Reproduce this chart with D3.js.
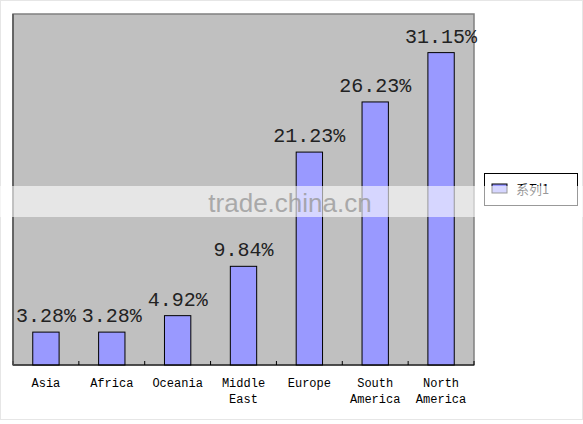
<!DOCTYPE html>
<html><head><meta charset="utf-8">
<script src="https://cdn.jsdelivr.net/npm/d3@7"></script>
<style>body{margin:0;background:#fff}svg{display:block}</style>
</head><body>
<script>
const categories = [["Asia"],["Africa"],["Oceania"],["Middle","East"],["Europe"],["South","America"],["North","America"]];
const values = [3.28, 3.28, 4.92, 9.84, 21.23, 26.23, 31.15];
const valueLabels = ["3.28%","3.28%","4.92%","9.84%","21.23%","26.23%","31.15%"];
const seriesName = "系列1";

const W = 583, H = 424;
const plot = {l: 13, t: 14, r: 474, b: 365};
const svg = d3.select("body").append("svg").attr("width", W).attr("height", H);

svg.append("rect").attr("x",0.5).attr("y",0.5).attr("width",W-1).attr("height",419)
  .attr("fill","#fff").attr("stroke","#e6e6e6");

svg.append("rect").attr("x",plot.l).attr("y",plot.t).attr("width",plot.r-plot.l).attr("height",plot.b-plot.t)
  .attr("fill","#c0c0c0").attr("stroke","#808080").attr("stroke-width",1.5);

const x = d3.scaleBand().domain(d3.range(categories.length)).range([plot.l, plot.r]).paddingInner(0.6).paddingOuter(0.3);
const y = d3.scaleLinear().domain([0,35]).range([plot.b, plot.t]);

svg.selectAll("rect.bar").data(values).join("rect").attr("class","bar")
  .attr("x",(d,i)=>x(i)).attr("y",d=>y(d)).attr("width",x.bandwidth()).attr("height",d=>y(0)-y(d))
  .attr("fill","#9999ff").attr("stroke","#000").attr("stroke-width",1);

svg.selectAll("text.val").data(values).join("text").attr("class","val")
  .attr("x",(d,i)=>x(i)+x.bandwidth()/2).attr("y",d=>y(d)-10)
  .attr("text-anchor","middle").attr("font-family","Liberation Mono, DejaVu Sans Mono, monospace")
  .attr("font-size",20).attr("fill","#222").text((d,i)=>valueLabels[i]);

// axis
const step = x.step();
const axisG = svg.append("g");
axisG.append("line").attr("x1",plot.l).attr("x2",plot.r).attr("y1",plot.b).attr("y2",plot.b).attr("stroke","#000");
for (let i=0;i<=categories.length;i++){
  const xx = plot.l + i*(plot.r-plot.l)/categories.length;
  axisG.append("line").attr("x1",xx).attr("x2",xx).attr("y1",plot.b).attr("y2",plot.b-4).attr("stroke","#000");
}
svg.append("line").attr("x1",plot.l).attr("x2",plot.l).attr("y1",plot.t).attr("y2",plot.b).attr("stroke","#555").attr("stroke-width",1.5);

const lab = svg.selectAll("text.cat").data(categories).join("text").attr("class","cat")
  .attr("text-anchor","middle").attr("font-family","Liberation Mono, DejaVu Sans Mono, monospace")
  .attr("font-size",12).attr("fill","#000");
lab.each(function(d,i){
  const t = d3.select(this);
  d.forEach((s,j)=>t.append("tspan").attr("x",x(i)+x.bandwidth()/2).attr("y",387+j*16).text(s));
});

// legend
const lg = svg.append("g");
lg.append("rect").attr("x",484.5).attr("y",173.5).attr("width",93).attr("height",32).attr("fill","#fff").attr("stroke","#000");
lg.append("rect").attr("x",492).attr("y",184).attr("width",15).attr("height",9).attr("fill","#9999ff").attr("stroke","#000");
lg.append("text").attr("x",516).attr("y",194).attr("font-family","Noto Sans CJK SC, sans-serif").attr("font-size",13).attr("fill","#000").text(seriesName);

// watermark band
svg.append("rect").attr("x",0).attr("y",186).attr("width",W).attr("height",31).attr("fill","#fff").attr("opacity",0.6);
svg.append("text").attr("x",290).attr("y",212).attr("text-anchor","middle").attr("font-family","Liberation Sans, Arial, sans-serif")
  .attr("font-size",26).attr("fill","#9a9a9a").attr("opacity",0.8).text("trade.china.cn");
</script>
</body></html>
